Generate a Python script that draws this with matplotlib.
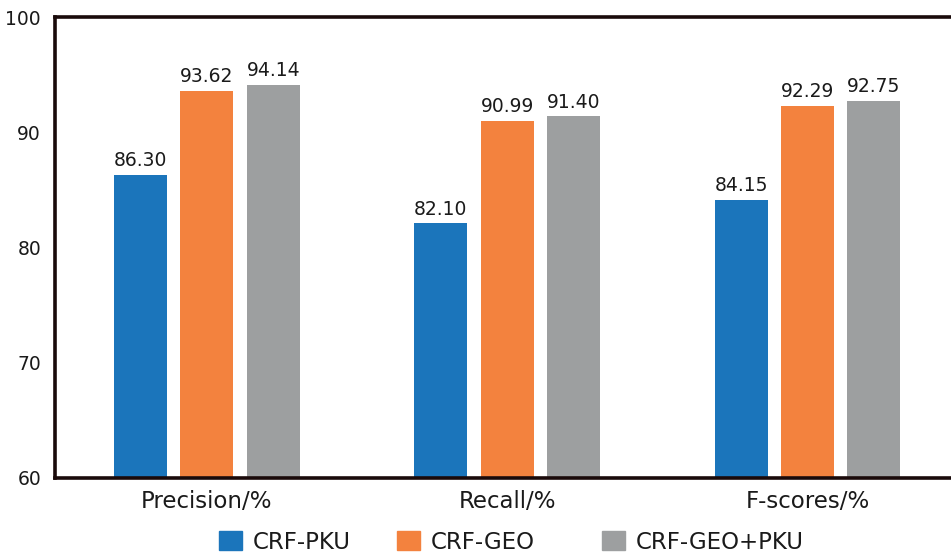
import numpy as np
import matplotlib
matplotlib.use("Agg")
import matplotlib.pyplot as plt
from matplotlib.patches import Patch

categories = ["Precision/%", "Recall/%", "F-scores/%"]
series_names = ["CRF-PKU", "CRF-GEO", "CRF-GEO+PKU"]
crf_pku = [86.30, 82.10, 84.15]
crf_geo = [93.62, 90.99, 92.29]
crf_geo_pku = [94.14, 91.40, 92.75]
colors = ["#1b75bb", "#f3823e", "#9d9fa0"]

plt.rcParams['font.family'] = ['DejaVu Sans']

fig = plt.figure(figsize=(9.51, 5.56), dpi=100)
ax = fig.add_axes([0.0578, 0.1403, 0.946, 0.829])

x = np.arange(len(categories))
width = 0.176
offset = 0.221
for i, vals in enumerate([crf_pku, crf_geo, crf_geo_pku]):
    bars = ax.bar(x + (i - 1) * offset, vals, width, color=colors[i])
    for b, v in zip(bars, vals):
        ax.text(b.get_x() + b.get_width() / 2, v + 0.4, "%.2f" % v,
                ha="center", va="bottom", fontsize=13.5, color="#1a1a1a")

ax.set_xlim(-0.506, 2.49)
ax.set_ylim(60, 100)
ax.set_yticks([60, 70, 80, 90, 100])
ax.set_xticks(x)
ax.set_xticklabels(categories, fontsize=16.5, color="#1a1a1a")
ax.tick_params(axis="y", length=0, pad=10, labelsize=13.5, labelcolor="#1a1a1a")
ax.tick_params(axis="x", length=0, pad=9)
for s in ax.spines.values():
    s.set_linewidth(2.6)
    s.set_color("#1a0a0a")

# legend entries placed one by one, like the original
legend_x = [217, 395, 600]
for name, c, lx in zip(series_names, colors, legend_x):
    leg = fig.legend(handles=[Patch(color=c)], labels=[name], loc="lower left",
                     bbox_to_anchor=(lx / 951, 0.0), frameon=False, fontsize=16.5,
                     handlelength=1.0, handleheight=0.9, handletextpad=0.45,
                     borderpad=0, borderaxespad=0.1)
    for t in leg.get_texts():
        t.set_color("#1a1a1a")

fig.savefig("out.png", dpi=100)
